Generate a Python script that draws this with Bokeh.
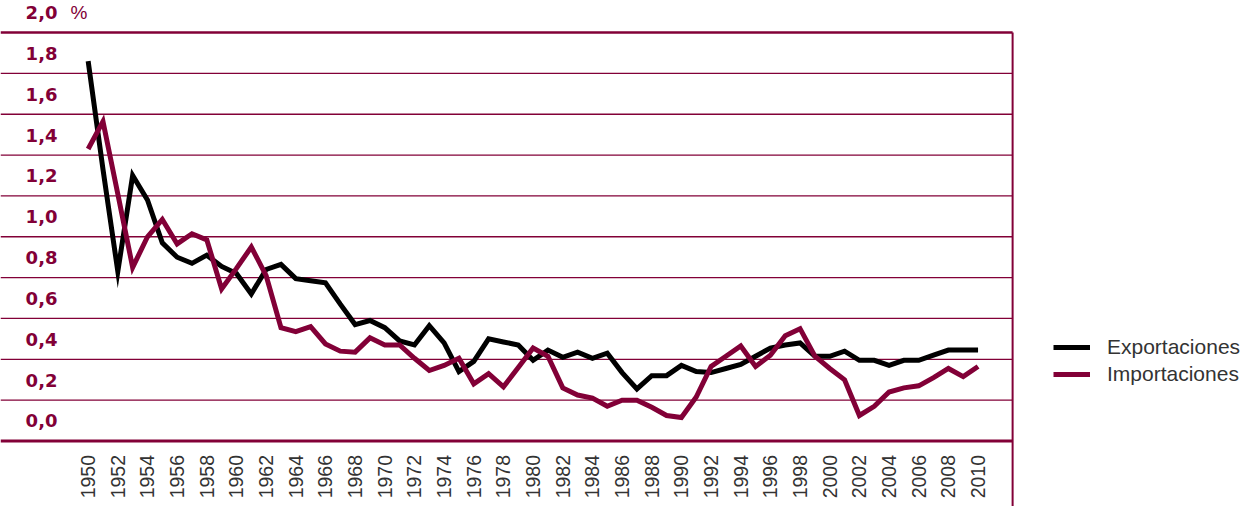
import math
from bokeh.plotting import figure
from bokeh.models import Range1d, Legend, LegendItem, ColumnDataSource
from bokeh.core.properties import value
from bokeh.embed import file_html
from bokeh.resources import INLINE

# ---------------- data ----------------
years = list(range(1950, 2011))

exportaciones = [
    1.86, 1.33, 0.83, 1.30, 1.18, 0.97, 0.90, 0.87, 0.91, 0.855,
    0.82, 0.72, 0.84, 0.865, 0.795, 0.785, 0.775, 0.67, 0.57, 0.59,
    0.555, 0.49, 0.47, 0.565, 0.48, 0.34, 0.39, 0.50, 0.485, 0.47,
    0.395, 0.445, 0.41, 0.435, 0.405, 0.43, 0.335, 0.255, 0.32, 0.32,
    0.37, 0.34, 0.335, 0.355, 0.375, 0.415, 0.455, 0.47, 0.48, 0.415,
    0.415, 0.44, 0.395, 0.395, 0.37, 0.395, 0.395, 0.42, 0.445, 0.445,
    0.445,
]

importaciones = [
    1.43, 1.565, 1.21, 0.85, 1.00, 1.085, 0.965, 1.015, 0.985, 0.745,
    0.845, 0.95, 0.81, 0.555, 0.535, 0.56, 0.475, 0.44, 0.435, 0.505,
    0.47, 0.47, 0.405, 0.345, 0.37, 0.405, 0.28, 0.33, 0.265, 0.36,
    0.455, 0.415, 0.26, 0.225, 0.21, 0.17, 0.20, 0.20, 0.165, 0.125,
    0.115, 0.215, 0.365, 0.415, 0.465, 0.365, 0.42, 0.515, 0.55, 0.415,
    0.355, 0.30, 0.125, 0.17, 0.24, 0.26, 0.27, 0.31, 0.355, 0.315,
    0.365,
]

y_ticks = [0.0, 0.2, 0.4, 0.6, 0.8, 1.0, 1.2, 1.4, 1.6, 1.8, 2.0]
y_labels = ["0,0", "0,2", "0,4", "0,6", "0,8", "1,0", "1,2", "1,4", "1,6", "1,8", "2,0"]
unit_label = "%"

x_ticks = list(range(1950, 2011, 2))
x_labels = [str(t) for t in x_ticks]

series_names = ["Exportaciones", "Importaciones"]

# ---------------- layout / style ----------------
RED = "#820037"
X0, X1 = 1944.09, 2027.83
Y0, Y1 = -0.3208, 2.157
X_RIGHT = 2012.33

p = figure(width=1242, height=506,
           x_range=Range1d(X0, X1), y_range=Range1d(Y0, Y1),
           x_axis_type=None, y_axis_type=None,
           output_backend="svg", toolbar_location=None, min_border=0)
p.grid.visible = False
p.outline_line_color = None
p.background_fill_color = "white"
p.border_fill_color = "white"

# horizontal rules
grid_widths = [3.0 if v == 0.0 else (2.5 if v == 2.0 else 1.3) for v in y_ticks]
gsrc = ColumnDataSource(dict(x0=[X0] * len(y_ticks), x1=[X_RIGHT] * len(y_ticks),
                             y=y_ticks, lw=grid_widths))
p.segment(x0="x0", x1="x1", y0="y", y1="y", line_width="lw", line_color=RED, source=gsrc)

# right vertical rule
p.segment(x0=[X_RIGHT], x1=[X_RIGHT], y0=[y_ticks[-1]], y1=[Y0], line_width=2, line_color=RED)

# series
r_exp = p.line(years, exportaciones, line_width=5, line_color="black", line_join="miter")
r_imp = p.line(years, importaciones, line_width=5, line_color=RED, line_join="miter")

# y labels (in the band above each rule)
p.text(x=[X0] * len(y_ticks), y=y_ticks, text=y_labels,
       x_offset=57, y_offset=-20, text_align="right", text_baseline="middle",
       text_font=value("DejaVu Sans"), text_font_style="bold",
       text_font_size="18px", text_color=RED)
p.text(x=[X0], y=[y_ticks[-1]], text=[unit_label],
       x_offset=70, y_offset=-20, text_align="left", text_baseline="middle",
       text_font=value("Liberation Sans"), text_font_size="19px", text_color=RED)

# x labels, vertical
p.text(x=x_ticks, y=[0.0] * len(x_ticks), text=x_labels,
       angle=math.pi / 2, text_align="right", text_baseline="middle",
       y_offset=14, text_font=value("Liberation Sans"), text_font_size="19.5px",
       text_color="#333333")

legend = Legend(items=[LegendItem(label=series_names[0], renderers=[r_exp]),
                       LegendItem(label=series_names[1], renderers=[r_imp])],
                location=(1053, 120), padding=0, margin=0, spacing=3,
                glyph_width=37, glyph_height=20, label_height=20, label_standoff=17,
                label_text_font="Liberation Sans", label_text_font_size="21px",
                label_text_color="#333333",
                background_fill_alpha=0, border_line_alpha=0)
p.add_layout(legend)

open("out.html", "w").write(file_html(p, INLINE))
